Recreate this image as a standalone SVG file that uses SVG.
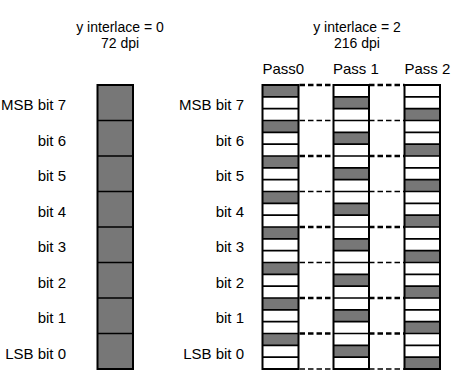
<svg xmlns="http://www.w3.org/2000/svg" xmlns:xlink="http://www.w3.org/1999/xlink" width="454" height="373" viewBox="0 0 454 373">
<style>
text{font-family:"Liberation Sans",Arial,Helvetica,sans-serif;font-size:15px;fill:#000}
.t{font-size:14px}
.r{text-anchor:end}
.c{text-anchor:middle}
.g{fill:#777}
.out{fill:none;stroke:#000;stroke-width:2}
.hl{fill:none;stroke:#000;stroke-width:1.6}
.dk{fill:none;stroke:#000;stroke-width:2.6;stroke-dasharray:5.5 3}
.dn{fill:none;stroke:#000;stroke-width:1.3;stroke-dasharray:5.5 3}
</style>
<defs>
<path id="sub" d="M0 96.83H36M0 108.67H36M0 132.33H36M0 144.17H36M0 167.83H36M0 179.67H36M0 203.33H36M0 215.17H36M0 238.83H36M0 250.67H36M0 274.33H36M0 286.17H36M0 309.83H36M0 321.67H36M0 345.33H36M0 357.17H36"/>
<path id="row" d="M0 120.5H36M0 156H36M0 191.5H36M0 227H36M0 262.5H36M0 298H36M0 333.5H36"/>
</defs>
<rect width="454" height="373" fill="#fff"/>
<g id="title-left"><text class="c t" x="120" y="32">y interlace = 0</text><text class="c t" x="120" y="48">72 dpi</text></g>
<g id="title-right"><text class="c t" x="357" y="32">y interlace = 2</text><text class="c t" x="357" y="48">216 dpi</text></g>
<g id="labels-left">
<text class="r" x="66" y="110">MSB bit 7</text>
<text class="r" x="66" y="145.5">bit 6</text>
<text class="r" x="66" y="181">bit 5</text>
<text class="r" x="66" y="216.5">bit 4</text>
<text class="r" x="66" y="252">bit 3</text>
<text class="r" x="66" y="287.5">bit 2</text>
<text class="r" x="66" y="323">bit 1</text>
<text class="r" x="66" y="358.5">LSB bit 0</text>
</g>
<g id="labels-right">
<text class="r" x="244" y="110">MSB bit 7</text>
<text class="r" x="244" y="145.5">bit 6</text>
<text class="r" x="244" y="181">bit 5</text>
<text class="r" x="244" y="216.5">bit 4</text>
<text class="r" x="244" y="252">bit 3</text>
<text class="r" x="244" y="287.5">bit 2</text>
<text class="r" x="244" y="323">bit 1</text>
<text class="r" x="244" y="358.5">LSB bit 0</text>
</g>
<g id="col-72dpi" transform="translate(97.5,0)">
<rect class="g" x="0" y="85" width="35.5" height="284"/>
<use xlink:href="#row" class="hl" transform="scale(0.986,1)"/>
<rect class="out" x="0" y="85" width="35.5" height="284"/>
</g>
<g id="pass0-label"><text x="262.5" y="73.5">Pass0</text></g>
<g id="pass1-label"><text x="333" y="73.5">Pass 1</text></g>
<g id="pass2-label"><text x="404.5" y="73.5">Pass 2</text></g>
<g id="col-pass0" transform="translate(262.5,0)">
<rect class="g" x="0" y="85" width="36" height="11.83"/>
<rect class="g" x="0" y="120.5" width="36" height="11.83"/>
<rect class="g" x="0" y="156" width="36" height="11.83"/>
<rect class="g" x="0" y="191.5" width="36" height="11.83"/>
<rect class="g" x="0" y="227" width="36" height="11.83"/>
<rect class="g" x="0" y="262.5" width="36" height="11.83"/>
<rect class="g" x="0" y="298" width="36" height="11.83"/>
<rect class="g" x="0" y="333.5" width="36" height="11.83"/>
<use xlink:href="#sub" class="hl"/>
<use xlink:href="#row" class="hl"/>
<rect class="out" x="0" y="85" width="36" height="284"/>
</g>
<g id="col-pass1" transform="translate(333.5,0)">
<rect class="g" x="0" y="96.83" width="35.5" height="11.83"/>
<rect class="g" x="0" y="132.33" width="35.5" height="11.83"/>
<rect class="g" x="0" y="167.83" width="35.5" height="11.83"/>
<rect class="g" x="0" y="203.33" width="35.5" height="11.83"/>
<rect class="g" x="0" y="238.83" width="35.5" height="11.83"/>
<rect class="g" x="0" y="274.33" width="35.5" height="11.83"/>
<rect class="g" x="0" y="309.83" width="35.5" height="11.83"/>
<rect class="g" x="0" y="345.33" width="35.5" height="11.83"/>
<use xlink:href="#sub" class="hl" transform="scale(0.986,1)"/>
<use xlink:href="#row" class="hl" transform="scale(0.986,1)"/>
<rect class="out" x="0" y="85" width="35.5" height="284"/>
</g>
<g id="col-pass2" transform="translate(404.5,0)">
<rect class="g" x="0" y="108.67" width="35.5" height="11.83"/>
<rect class="g" x="0" y="144.17" width="35.5" height="11.83"/>
<rect class="g" x="0" y="179.67" width="35.5" height="11.83"/>
<rect class="g" x="0" y="215.17" width="35.5" height="11.83"/>
<rect class="g" x="0" y="250.67" width="35.5" height="11.83"/>
<rect class="g" x="0" y="286.17" width="35.5" height="11.83"/>
<rect class="g" x="0" y="321.67" width="35.5" height="11.83"/>
<rect class="g" x="0" y="357.17" width="35.5" height="11.83"/>
<use xlink:href="#sub" class="hl" transform="scale(0.986,1)"/>
<use xlink:href="#row" class="hl" transform="scale(0.986,1)"/>
<rect class="out" x="0" y="85" width="35.5" height="284"/>
</g>
<g id="connectors">
<path class="dk" d="M299.5 85H333.5M369 85H404.5M299.5 156H333.5M369 156H404.5M299.5 227H333.5M369 227H404.5M299.5 298H333.5M369 298H404.5M299.5 333.5H333.5M369 333.5H404.5"/>
<path class="dn" d="M299.5 120.5H333.5M369 120.5H404.5M299.5 191.5H333.5M369 191.5H404.5M299.5 262.5H333.5M369 262.5H404.5M299.5 369H333.5M369 369H404.5"/>
</g>
</svg>
